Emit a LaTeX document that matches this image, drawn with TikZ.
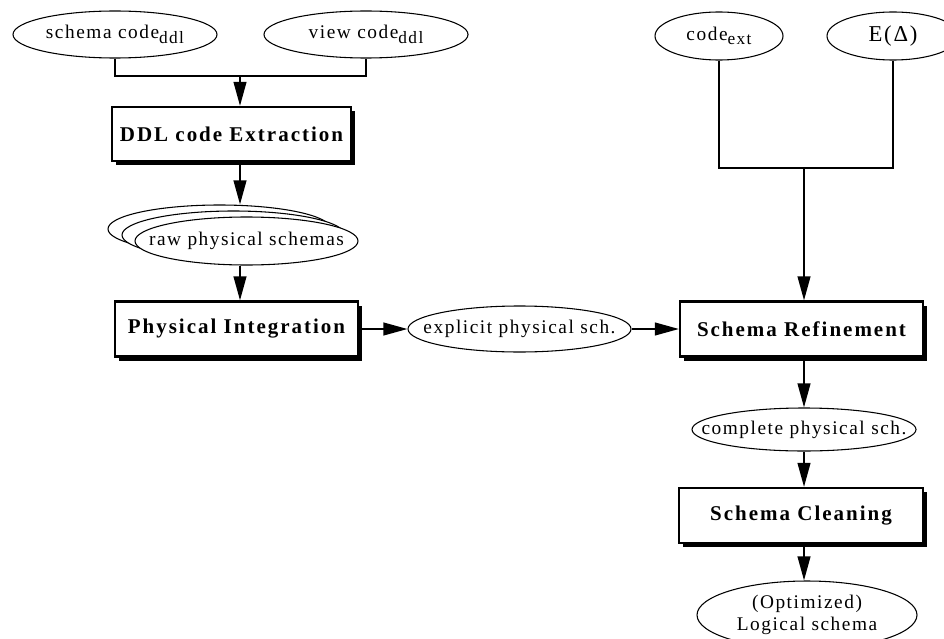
\documentclass[tikz,border=0pt]{standalone}
\usepackage{fontspec}
\newfontfamily\elfont[LetterSpace=8]{Liberation Serif}
\newfontfamily\bxfont[LetterSpace=9.5]{Liberation Serif}
\usepackage{tikz}
\usetikzlibrary{positioning,arrows.meta,calc,shapes.geometric,shadows}
\newcommand{\lowsub}[1]{\raisebox{-3.5pt}{\fontsize{13pt}{15pt}\selectfont #1}}
\tikzset{
  flow/.style={-{Triangle[length=18pt,width=9.5pt]},line width=1.5pt},
  link/.style={line width=1.5pt},
  proc/.style={rectangle,draw,line width=1.6pt,fill=white,inner sep=0pt,
    font=\bxfont\bfseries\fontsize{15.75pt}{18pt}\selectfont,
    drop shadow={shadow xshift=3pt,shadow yshift=-3pt,opacity=1,fill=black}},
  dat/.style={ellipse,draw,line width=0.8pt,fill=white,inner ysep=0pt,inner xsep=-20pt,
    font=\elfont\fontsize{14.5pt}{17pt}\selectfont},
  % several schemas piled behind one another
  stack/.style={dat,
    general shadow={shadow xshift=-20.25pt,shadow yshift=9pt,draw,line width=0.8pt,fill=white},
    general shadow={shadow xshift=-9.75pt,shadow yshift=4.5pt,draw,line width=0.8pt,fill=white}},
}
\begin{document}
\begin{tikzpicture}[x=0.75pt,y=-0.75pt]
  \useasboundingbox (0,0) rectangle (944,638);
  % left branch: DDL sources
  \node[dat,minimum width=153pt,minimum height=35.25pt] (schcode) at (115,34.5) {schema code\lowsub{ddl}};
  \node[dat,minimum width=153pt,minimum height=35.25pt] (viewcode) at (366,34.5) {view code\lowsub{ddl}};
  \coordinate (jddl) at (240,76);
  \node[proc,minimum width=179.25pt,minimum height=40.5pt] (ddlext) at (231.5,134) {DDL code Extraction};
  \node[stack,minimum width=167.25pt,minimum height=36pt] (rawsch) at (246.5,241) {raw physical schemas};
  \node[proc,minimum width=182.25pt,minimum height=41.25pt] (physint) at (236.5,329) {Physical Integration};
  \node[dat,minimum width=167.25pt,minimum height=34.5pt] (explsch) at (519.5,329) {explicit physical sch.};
  % right branch
  \node[dat,minimum width=96pt,minimum height=36pt] (codeext) at (719,36) {code\lowsub{ext}};
  \node[dat,minimum width=99pt,minimum height=36pt,font=\elfont\fontsize{17pt}{20pt}\selectfont] (edelta) at (893,36) {E(Δ)};
  \coordinate (jref) at (804,168);
  \node[proc,minimum width=182.25pt,minimum height=41.25pt] (schref) at (801.5,329) {Schema Refinement};
  \node[dat,minimum width=168pt,minimum height=32.25pt] (complsch) at (804,429.5) {complete physical sch.};
  \node[proc,minimum width=183pt,minimum height=41.25pt] (schclean) at (801,515.5) {Schema Cleaning};
  \node[dat,minimum width=165pt,minimum height=51pt,align=center] (logsch) at (807,615) {(Optimized)\\Logical schema};
  % connectors
  \draw[link] (schcode.south) |- (jddl) -| (viewcode.south);
  \draw[flow] (jddl) -- (ddlext.north -| jddl);
  \draw[flow] (ddlext.south -| jddl) -- ([yshift=9pt]rawsch.north -| jddl);
  \draw[flow] (rawsch.south -| jddl) -- (physint.north -| jddl);
  \draw[flow] (physint.east) -- (explsch.west);
  \draw[flow] (explsch.east) -- (schref.west);
  \draw[link] (codeext.south) |- (jref) -| (edelta.south);
  \draw[flow] (jref) -- (schref.north -| jref);
  \draw[flow] (schref.south -| jref) -- (complsch.north -| jref);
  \draw[flow] (complsch.south -| jref) -- (schclean.north -| jref);
  \draw[flow] (schclean.south -| jref) -- (logsch.north -| jref);
\end{tikzpicture}
\end{document}
